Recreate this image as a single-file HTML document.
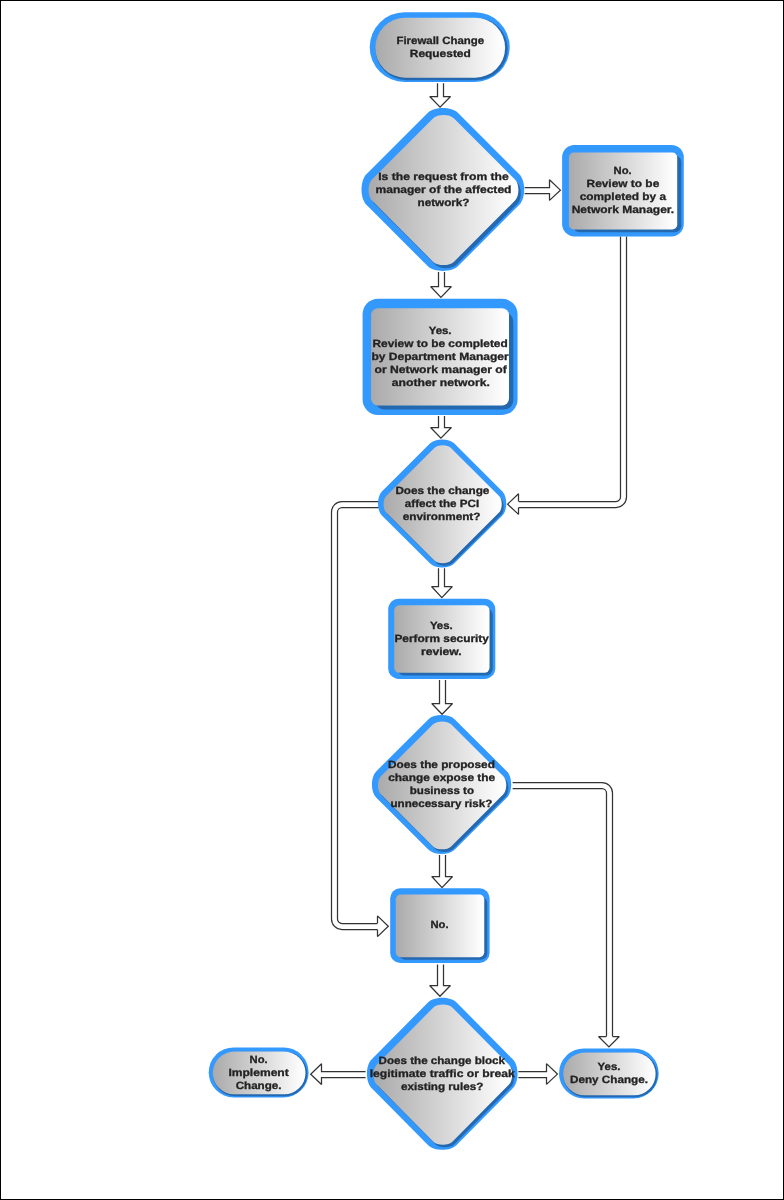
<!DOCTYPE html>
<html><head><meta charset="utf-8"><title>Firewall Change Flowchart</title>
<style>
html,body{margin:0;padding:0;background:#fff;}
body{width:784px;height:1200px;overflow:hidden;position:relative;}
svg{position:absolute;left:0;top:0;display:block;}
text{text-rendering:geometricPrecision;font-family:"Liberation Sans",sans-serif;font-weight:bold;font-size:10.5px;fill:#222;stroke:#222;stroke-width:0.3px;text-anchor:middle;}
.ar{fill:#fff;stroke:#333;stroke-width:1.25;stroke-linejoin:miter;stroke-miterlimit:2;}
</style></head>
<body>
<svg width="784" height="1200" viewBox="0 0 784 1200">
<defs>
<linearGradient id="g1" gradientUnits="userSpaceOnUse" x1="375.3" y1="0" x2="505.1" y2="0"><stop offset="0" stop-color="#aaaaaa"/><stop offset="0.98" stop-color="#ffffff"/></linearGradient>
<linearGradient id="g2" gradientUnits="userSpaceOnUse" x1="368.6" y1="0" x2="518.4" y2="0"><stop offset="0" stop-color="#aaaaaa"/><stop offset="0.98" stop-color="#ffffff"/></linearGradient>
<linearGradient id="g3" gradientUnits="userSpaceOnUse" x1="568.9" y1="0" x2="677.2" y2="0"><stop offset="0" stop-color="#aaaaaa"/><stop offset="0.98" stop-color="#ffffff"/></linearGradient>
<linearGradient id="g4" gradientUnits="userSpaceOnUse" x1="371.1" y1="0" x2="509.0" y2="0"><stop offset="0" stop-color="#aaaaaa"/><stop offset="0.98" stop-color="#ffffff"/></linearGradient>
<linearGradient id="g5" gradientUnits="userSpaceOnUse" x1="383.6" y1="0" x2="501.7" y2="0"><stop offset="0" stop-color="#aaaaaa"/><stop offset="0.98" stop-color="#ffffff"/></linearGradient>
<linearGradient id="g6" gradientUnits="userSpaceOnUse" x1="394.2" y1="0" x2="489.5" y2="0"><stop offset="0" stop-color="#aaaaaa"/><stop offset="0.98" stop-color="#ffffff"/></linearGradient>
<linearGradient id="g7" gradientUnits="userSpaceOnUse" x1="378.0" y1="0" x2="506.2" y2="0"><stop offset="0" stop-color="#aaaaaa"/><stop offset="0.98" stop-color="#ffffff"/></linearGradient>
<linearGradient id="g8" gradientUnits="userSpaceOnUse" x1="395.8" y1="0" x2="484.2" y2="0"><stop offset="0" stop-color="#aaaaaa"/><stop offset="0.98" stop-color="#ffffff"/></linearGradient>
<linearGradient id="g9" gradientUnits="userSpaceOnUse" x1="373.6" y1="0" x2="512.1" y2="0"><stop offset="0" stop-color="#aaaaaa"/><stop offset="0.98" stop-color="#ffffff"/></linearGradient>
<linearGradient id="g10" gradientUnits="userSpaceOnUse" x1="212.8" y1="0" x2="305.5" y2="0"><stop offset="0" stop-color="#aaaaaa"/><stop offset="0.98" stop-color="#ffffff"/></linearGradient>
<linearGradient id="g11" gradientUnits="userSpaceOnUse" x1="563.1" y1="0" x2="655.6" y2="0"><stop offset="0" stop-color="#aaaaaa"/><stop offset="0.98" stop-color="#ffffff"/></linearGradient>
</defs>
<rect x="0" y="0" width="784" height="1200" fill="#fff"/>
<path d="M623.5,236.6 L623.5,497.0 A7.5,7.5 0 0 1 616.0,504.5 L518.5,504.5" fill="none" stroke="#333" stroke-width="7.25"/>
<path d="M623.5,236.6 L623.5,497.0 A7.5,7.5 0 0 1 616.0,504.5 L518.5,504.5" fill="none" stroke="#fff" stroke-width="4.75" stroke-linecap="square"/>
<path d="M380,504.5 L342.0,504.5 A7.5,7.5 0 0 0 334.5,512.0 L334.5,919.0 A7.5,7.5 0 0 0 342.0,926.5 L377.5,926.5" fill="none" stroke="#333" stroke-width="7.25"/>
<path d="M380,504.5 L342.0,504.5 A7.5,7.5 0 0 0 334.5,512.0 L334.5,919.0 A7.5,7.5 0 0 0 342.0,926.5 L377.5,926.5" fill="none" stroke="#fff" stroke-width="4.75" stroke-linecap="square"/>
<path d="M512.6,785.5 L602.0,785.5 A7.5,7.5 0 0 1 609.5,793.0 L609.5,1036.5" fill="none" stroke="#333" stroke-width="7.25"/>
<path d="M512.6,785.5 L602.0,785.5 A7.5,7.5 0 0 1 609.5,793.0 L609.5,1036.5" fill="none" stroke="#fff" stroke-width="4.75" stroke-linecap="square"/>
<path d="M518.5,501.5 L518.5,493.8 L507.6,504.15 L518.5,514.4 L518.5,507.5" class="ar"/>
<path d="M377.5,923.5 L377.5,915.9 L388.3,926.3 L377.5,936.6 L377.5,929.5" class="ar"/>
<path d="M606.5,1036.5 L598.5,1036.5 L608.95,1046.9 L619.3,1036.5 L612.5,1036.5" class="ar"/>
<path d="M437.50,83.20 L437.50,96.50 L429.75,96.50 L440.05,107.20 L450.55,96.50 L443.50,96.50 L443.50,83.20" class="ar"/>
<path d="M438.50,272.00 L438.50,286.50 L430.60,286.50 L440.90,297.40 L451.40,286.50 L444.50,286.50 L444.50,272.00" class="ar"/>
<path d="M438.50,416.00 L438.50,427.50 L430.60,427.50 L440.90,438.20 L451.40,427.50 L444.50,427.50 L444.50,416.00" class="ar"/>
<path d="M438.50,568.20 L438.50,586.50 L431.55,586.50 L441.85,597.60 L452.35,586.50 L444.50,586.50 L444.50,568.20" class="ar"/>
<path d="M439.50,680.00 L439.50,703.50 L431.75,703.50 L442.05,714.30 L452.55,703.50 L445.50,703.50 L445.50,680.00" class="ar"/>
<path d="M439.50,855.00 L439.50,876.50 L431.75,876.50 L442.05,887.60 L452.55,876.50 L445.50,876.50 L445.50,855.00" class="ar"/>
<path d="M437.50,964.50 L437.50,985.50 L429.65,985.50 L439.95,996.30 L450.45,985.50 L443.50,985.50 L443.50,964.50" class="ar"/>
<path d="M524.60,187.50 L549.50,187.50 L549.50,179.70 L560.40,190.15 L549.50,200.40 L549.50,193.50 L524.60,193.50" class="ar"/>
<path d="M518.40,1071.50 L546.50,1071.50 L546.50,1063.65 L557.40,1074.10 L546.50,1084.35 L546.50,1077.50 L518.40,1077.50" class="ar"/>
<path d="M365.60,1071.50 L321.50,1071.50 L321.50,1063.75 L310.70,1074.20 L321.50,1084.45 L321.50,1077.50 L365.60,1077.50" class="ar"/>
<rect x="369.70" y="12.20" width="140.00" height="69.80" rx="34.90" fill="#3399ff"/>
<rect x="375.45" y="17.95" width="132.20" height="62.25" rx="31.12" fill="#2469b0"/>
<rect x="375.30" y="17.80" width="129.80" height="59.85" rx="29.93" fill="url(#g1)"/>
<path d="M427.62,113.02 C434.17,106.47 451.53,106.47 458.08,113.02 L519.30,174.31 C525.84,180.86 525.84,198.24 519.30,204.79 L458.08,266.08 C451.53,272.63 434.17,272.63 427.62,266.08 L366.40,204.79 C359.86,198.24 359.86,180.86 366.40,174.31 Z" fill="#3399ff"/>
<path d="M435.40,121.61 C439.93,117.07 451.95,117.07 456.49,121.61 L517.45,182.65 C521.98,187.19 521.98,199.22 517.45,203.76 L456.49,264.80 C451.95,269.34 439.93,269.34 435.40,264.80 L374.44,203.76 C369.90,199.22 369.90,187.19 374.44,182.65 Z" fill="#2469b0"/>
<path d="M432.96,118.46 C437.49,113.92 449.51,113.92 454.04,118.46 L515.01,179.49 C519.54,184.03 519.54,196.07 515.01,200.61 L454.04,261.64 C449.51,266.18 437.49,266.18 432.96,261.64 L371.99,200.61 C367.46,196.07 367.46,184.03 371.99,179.49 Z" fill="url(#g2)"/>
<rect x="562.10" y="145.00" width="121.70" height="91.40" rx="12.30" fill="#3399ff"/>
<rect x="573.00" y="155.40" width="108.30" height="76.90" rx="6.59" fill="#2469b0"/>
<rect x="568.90" y="152.50" width="108.30" height="76.90" rx="5.00" fill="url(#g3)"/>
<rect x="362.60" y="298.80" width="154.95" height="116.15" rx="15.50" fill="#3399ff"/>
<rect x="375.40" y="312.40" width="137.90" height="97.20" rx="9.25" fill="#2469b0"/>
<rect x="371.10" y="308.30" width="137.90" height="97.20" rx="7.00" fill="url(#g4)"/>
<path d="M430.15,443.26 C435.31,438.10 448.99,438.10 454.15,443.26 L502.42,491.42 C507.58,496.57 507.58,510.23 502.42,515.38 L454.15,563.54 C448.99,568.70 435.31,568.70 430.15,563.54 L381.88,515.38 C376.72,510.23 376.72,496.57 381.88,491.42 Z" fill="#3399ff"/>
<path d="M436.27,450.48 C439.85,446.91 449.32,446.91 452.90,450.48 L500.97,498.44 C504.55,502.01 504.55,511.46 500.97,515.03 L452.90,562.99 C449.32,566.56 439.85,566.56 436.27,562.99 L388.20,515.03 C384.62,511.46 384.62,502.01 388.20,498.44 Z" fill="#2469b0"/>
<path d="M434.35,447.99 C437.92,444.43 447.40,444.43 450.98,447.99 L499.05,495.96 C502.63,499.52 502.63,508.98 499.05,512.55 L450.98,560.51 C447.40,564.07 437.92,564.07 434.35,560.51 L386.27,512.55 C382.70,508.98 382.70,499.52 386.27,495.96 Z" fill="url(#g5)"/>
<rect x="388.20" y="598.70" width="107.10" height="80.30" rx="10.68" fill="#3399ff"/>
<rect x="397.40" y="607.97" width="95.32" height="67.45" rx="6.65" fill="#2469b0"/>
<rect x="394.19" y="605.32" width="95.32" height="67.45" rx="5.19" fill="url(#g6)"/>
<path d="M428.52,719.18 C434.12,713.59 448.98,713.59 454.58,719.18 L506.99,771.45 C512.59,777.04 512.59,791.86 506.99,797.45 L454.58,849.72 C448.98,855.31 434.12,855.31 428.52,849.72 L376.11,797.45 C370.51,791.86 370.51,777.04 376.11,771.45 Z" fill="#3399ff"/>
<path d="M435.17,727.00 C439.05,723.13 449.34,723.13 453.22,727.00 L505.41,779.05 C509.30,782.92 509.30,793.18 505.41,797.05 L453.22,849.09 C449.34,852.96 439.05,852.96 435.17,849.09 L382.97,797.05 C379.09,793.18 379.09,782.92 382.97,779.05 Z" fill="#2469b0"/>
<path d="M433.08,724.30 C436.96,720.43 447.25,720.43 451.13,724.30 L503.33,776.35 C507.21,780.22 507.21,790.48 503.33,794.35 L451.13,846.40 C447.25,850.27 436.96,850.27 433.08,846.40 L380.88,794.35 C377.00,790.48 377.00,780.22 380.88,776.35 Z" fill="url(#g7)"/>
<rect x="390.20" y="888.30" width="99.40" height="74.70" rx="9.94" fill="#3399ff"/>
<rect x="398.75" y="896.94" width="88.47" height="62.75" rx="6.22" fill="#2469b0"/>
<rect x="395.77" y="894.48" width="88.47" height="62.75" rx="4.87" fill="url(#g8)"/>
<path d="M428.16,1002.24 C434.22,996.12 450.28,996.12 456.34,1002.24 L513.00,1059.47 C519.06,1065.59 519.06,1081.81 513.00,1087.93 L456.34,1145.16 C450.28,1151.28 434.22,1151.28 428.16,1145.16 L371.50,1087.93 C365.44,1081.81 365.44,1065.59 371.50,1059.47 Z" fill="#3399ff"/>
<path d="M435.03,1010.26 C439.23,1006.02 450.34,1006.02 454.54,1010.26 L510.93,1067.29 C515.13,1071.53 515.13,1082.77 510.93,1087.01 L454.54,1144.04 C450.34,1148.28 439.23,1148.28 435.03,1144.04 L378.64,1087.01 C374.44,1082.77 374.44,1071.53 378.64,1067.29 Z" fill="#2469b0"/>
<path d="M433.10,1007.76 C437.30,1003.52 448.41,1003.52 452.61,1007.76 L509.00,1064.79 C513.20,1069.03 513.20,1080.27 509.00,1084.51 L452.61,1141.54 C448.41,1145.78 437.30,1145.78 433.10,1141.54 L376.71,1084.51 C372.51,1080.27 372.51,1069.03 376.71,1064.79 Z" fill="url(#g9)"/>
<rect x="208.70" y="1047.40" width="99.90" height="50.00" rx="25.00" fill="#3399ff"/>
<rect x="212.92" y="1051.67" width="94.39" height="44.49" rx="22.24" fill="#2469b0"/>
<rect x="212.81" y="1051.57" width="92.67" height="42.77" rx="21.38" fill="url(#g10)"/>
<rect x="559.00" y="1048.40" width="99.70" height="50.00" rx="25.00" fill="#3399ff"/>
<rect x="563.22" y="1052.67" width="94.19" height="44.49" rx="22.24" fill="#2469b0"/>
<rect x="563.12" y="1052.57" width="92.47" height="42.77" rx="21.38" fill="url(#g11)"/>
<g id="txt" style="filter:grayscale(1)">
<text x="440.3" y="43.6" textLength="87.7" lengthAdjust="spacingAndGlyphs">Firewall Change</text>
<text x="440.3" y="56.8" textLength="61.0" lengthAdjust="spacingAndGlyphs">Requested</text>
<text x="443.5" y="179.9" textLength="130.5" lengthAdjust="spacingAndGlyphs">Is the request from the</text>
<text x="443.5" y="192.8" textLength="135.9" lengthAdjust="spacingAndGlyphs">manager of the affected</text>
<text x="443.5" y="205.7" textLength="51.9" lengthAdjust="spacingAndGlyphs">network?</text>
<text x="622.6" y="173.7" textLength="18.1" lengthAdjust="spacingAndGlyphs">No.</text>
<text x="622.9" y="186.8" textLength="72.7" lengthAdjust="spacingAndGlyphs">Review to be</text>
<text x="622.9" y="199.8" textLength="86.3" lengthAdjust="spacingAndGlyphs">completed by a</text>
<text x="622.9" y="212.8" textLength="102.5" lengthAdjust="spacingAndGlyphs">Network Manager.</text>
<text x="440.1" y="333.6" textLength="22.8" lengthAdjust="spacingAndGlyphs">Yes.</text>
<text x="440.1" y="346.7" textLength="135.2" lengthAdjust="spacingAndGlyphs">Review to be completed</text>
<text x="440.1" y="359.7" textLength="137.3" lengthAdjust="spacingAndGlyphs">by Department Manager</text>
<text x="440.7" y="372.7" textLength="132.2" lengthAdjust="spacingAndGlyphs">or Network manager of</text>
<text x="440.8" y="385.7" textLength="98.0" lengthAdjust="spacingAndGlyphs">another network.</text>
<text x="442.4" y="493.6" textLength="94.0" lengthAdjust="spacingAndGlyphs">Does the change</text>
<text x="442.0" y="506.6" textLength="74.4" lengthAdjust="spacingAndGlyphs">affect the PCI</text>
<text x="441.6" y="519.5" textLength="77.8" lengthAdjust="spacingAndGlyphs">environment?</text>
<text x="441.3" y="629.3" textLength="22.8" lengthAdjust="spacingAndGlyphs">Yes.</text>
<text x="441.7" y="642.3" textLength="94.5" lengthAdjust="spacingAndGlyphs">Perform security</text>
<text x="441.3" y="655.3" textLength="40.7" lengthAdjust="spacingAndGlyphs">review.</text>
<text x="441.5" y="768.3" textLength="106.8" lengthAdjust="spacingAndGlyphs">Does the proposed</text>
<text x="441.7" y="781.2" textLength="107.0" lengthAdjust="spacingAndGlyphs">change expose the</text>
<text x="441.9" y="794.1" textLength="64.3" lengthAdjust="spacingAndGlyphs">business to</text>
<text x="441.4" y="807.0" textLength="101.7" lengthAdjust="spacingAndGlyphs">unnecessary risk?</text>
<text x="439.5" y="927.8" textLength="18.1" lengthAdjust="spacingAndGlyphs">No.</text>
<text x="441.8" y="1064.0" textLength="126.4" lengthAdjust="spacingAndGlyphs">Does the change block</text>
<text x="442.2" y="1077.0" textLength="145.1" lengthAdjust="spacingAndGlyphs">legitimate traffic or break</text>
<text x="442.2" y="1090.0" textLength="82.2" lengthAdjust="spacingAndGlyphs">existing rules?</text>
<text x="258.6" y="1062.8" textLength="18.1" lengthAdjust="spacingAndGlyphs">No.</text>
<text x="258.6" y="1075.9" textLength="60.3" lengthAdjust="spacingAndGlyphs">Implement</text>
<text x="258.6" y="1089.0" textLength="45.9" lengthAdjust="spacingAndGlyphs">Change.</text>
<text x="609.0" y="1069.8" textLength="22.8" lengthAdjust="spacingAndGlyphs">Yes.</text>
<text x="609.0" y="1082.8" textLength="77.9" lengthAdjust="spacingAndGlyphs">Deny Change.</text>
</g>
<rect x="0.5" y="0.5" width="783" height="1199" fill="none" stroke="#000" stroke-width="1"/>
</svg>
</body></html>
